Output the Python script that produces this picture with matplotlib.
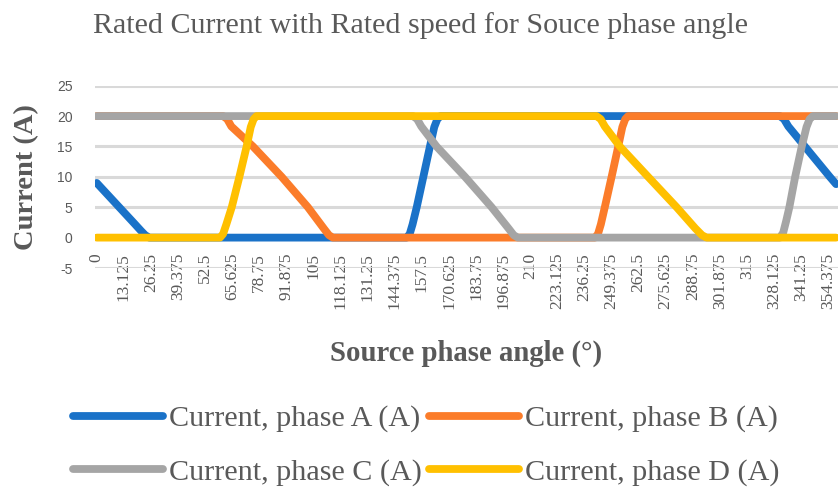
import numpy as np
import matplotlib
matplotlib.use('Agg')
import matplotlib.pyplot as plt

plt.rcParams['font.family'] = 'serif'
plt.rcParams['font.serif'] = ['Liberation Serif', 'DejaVu Serif']

# phase currents (A) against source phase angle (deg), read at the corners of each wave
angle_a = [0, 6, 12, 18, 21.5, 23.5, 25.5, 150.1, 151.6, 153, 155, 158.2, 161.4, 163.5, 165, 166.5,
           330.9, 332.9, 335, 343, 355.1, 358.125]
cur_a = [9.0, 6.8, 4.6, 2.4, 1.1, 0.4, 0, 0, 0.6, 2.2, 5, 10, 15, 18.2, 19.5, 20,
         20, 19.5, 18.3, 15, 10, 8.8]

angle_b = [0, 61.2, 63.2, 65.2, 75.7, 89.6, 102.3, 110, 112.5, 114.4,
           241.3, 242.8, 244.2, 246.1, 249.4, 252.6, 254.6, 256, 257.4, 358.125]
cur_b = [20, 20, 19.5, 18.3, 15, 10, 5, 1.5, 0.4, 0,
         0, 0.6, 2.2, 5, 10, 15, 18.2, 19.5, 20, 20]

angle_c = [0, 153.2, 155.2, 157.2, 164.6, 178.4, 191.3, 199.5, 202, 204,
           330.9, 332.5, 334, 335.5, 338.3, 341.5, 343.8, 345.3, 346.9, 358.125]
cur_c = [20, 20, 19.5, 18.3, 15, 10, 5, 1.5, 0.4, 0,
         0, 0.8, 2.8, 5, 10, 15, 18.2, 19.5, 20, 20]

angle_d = [0, 59.7, 61.2, 62.8, 65.4, 69.1, 72.6, 74.6, 76, 77.4,
           242.1, 244.1, 246.1, 253.4, 267.1, 280.9, 290, 293.2, 295.4, 358.125]
cur_d = [0, 0, 0.6, 2.2, 5, 10, 15, 18.2, 19.5, 20,
         20, 19.5, 18.3, 15, 10, 5, 1.5, 0.4, 0, 0]

series_names = ['Current, phase A (A)', 'Current, phase B (A)',
                'Current, phase C (A)', 'Current, phase D (A)']
series_colors = ['#1A72C8', '#FB7C2A', '#A5A5A5', '#FFC000']

xtick_labels = ['0', '13.125', '26.25', '39.375', '52.5', '65.625', '78.75', '91.875',
                '105', '118.125', '131.25', '144.375', '157.5', '170.625', '183.75',
                '196.875', '210', '223.125', '236.25', '249.375', '262.5', '275.625',
                '288.75', '301.875', '315', '328.125', '341.25', '354.375']
ytick_values = [-5, 0, 5, 10, 15, 20, 25]

grey_text = '#595959'

fig = plt.figure(figsize=(8.38, 4.90), dpi=100)
W, H = 838.0, 490.0
ax = fig.add_axes([94.8 / W, 1 - 268 / H, (838 - 94.8) / W, (268 - 85.7) / H])

lines = []
for xs, ys, name, col in zip([angle_a, angle_b, angle_c, angle_d],
                             [cur_a, cur_b, cur_c, cur_d],
                             series_names, series_colors):
    ln, = ax.plot(xs, ys, color=col, lw=5.6, label=name,
                  solid_capstyle='round', solid_joinstyle='round', zorder=3)
    lines.append(ln)

ax.set_xlim(-0.9375, 359.0625)
ax.set_ylim(-5, 25)

for s in ax.spines.values():
    s.set_visible(False)
# category labels hang below the zero line, like an excel value-crossing axis
ax.spines['bottom'].set_position(('data', 0))

ax.set_xticks([float(t) for t in xtick_labels])
ax.set_xticklabels(xtick_labels, fontsize=12.5, color=grey_text)
for t in ax.get_xticklabels():
    # end of every label sits just under the zero line
    t.set_rotation(90)
    t.set_rotation_mode('anchor')
    t.set_ha('right')
    t.set_va('center')
ax.tick_params(axis='x', length=0, pad=11)

ax.set_yticks(ytick_values)
ax.set_yticklabels([str(v) for v in ytick_values], fontsize=10, color=grey_text,
                   family='Liberation Sans')
ax.tick_params(axis='y', length=0, pad=16)

ax.grid(axis='y', color='#D9D9D9', lw=2.2)
ax.set_axisbelow(True)

fig.text(93 / W, 1 - 26 / H, 'Rated Current with Rated speed for Souce phase angle',
         ha='left', va='center', fontsize=21.6, color=grey_text)
fig.text(27 / W, 1 - 177 / H, 'Current (A)', rotation=90, ha='center', va='center',
         fontsize=20.5, fontweight='bold', color=grey_text)
fig.text(466 / W, 1 - 353 / H, 'Source phase angle (°)', ha='center', va='center',
         fontsize=20.7, fontweight='bold', color=grey_text)

# two columns, filled row by row
order = [0, 2, 1, 3]
leg = fig.legend([lines[i] for i in order], [series_names[i] for i in order],
                 ncol=2, loc='upper left', bbox_to_anchor=(73 / W, 1 - 405 / H),
                 frameon=False, fontsize=21.7, handlelength=3.0, handletextpad=0.2,
                 columnspacing=0.22, labelspacing=0.88, borderpad=0, borderaxespad=0)
for t in leg.get_texts():
    t.set_color(grey_text)

fig.savefig('out.png', dpi=100)
